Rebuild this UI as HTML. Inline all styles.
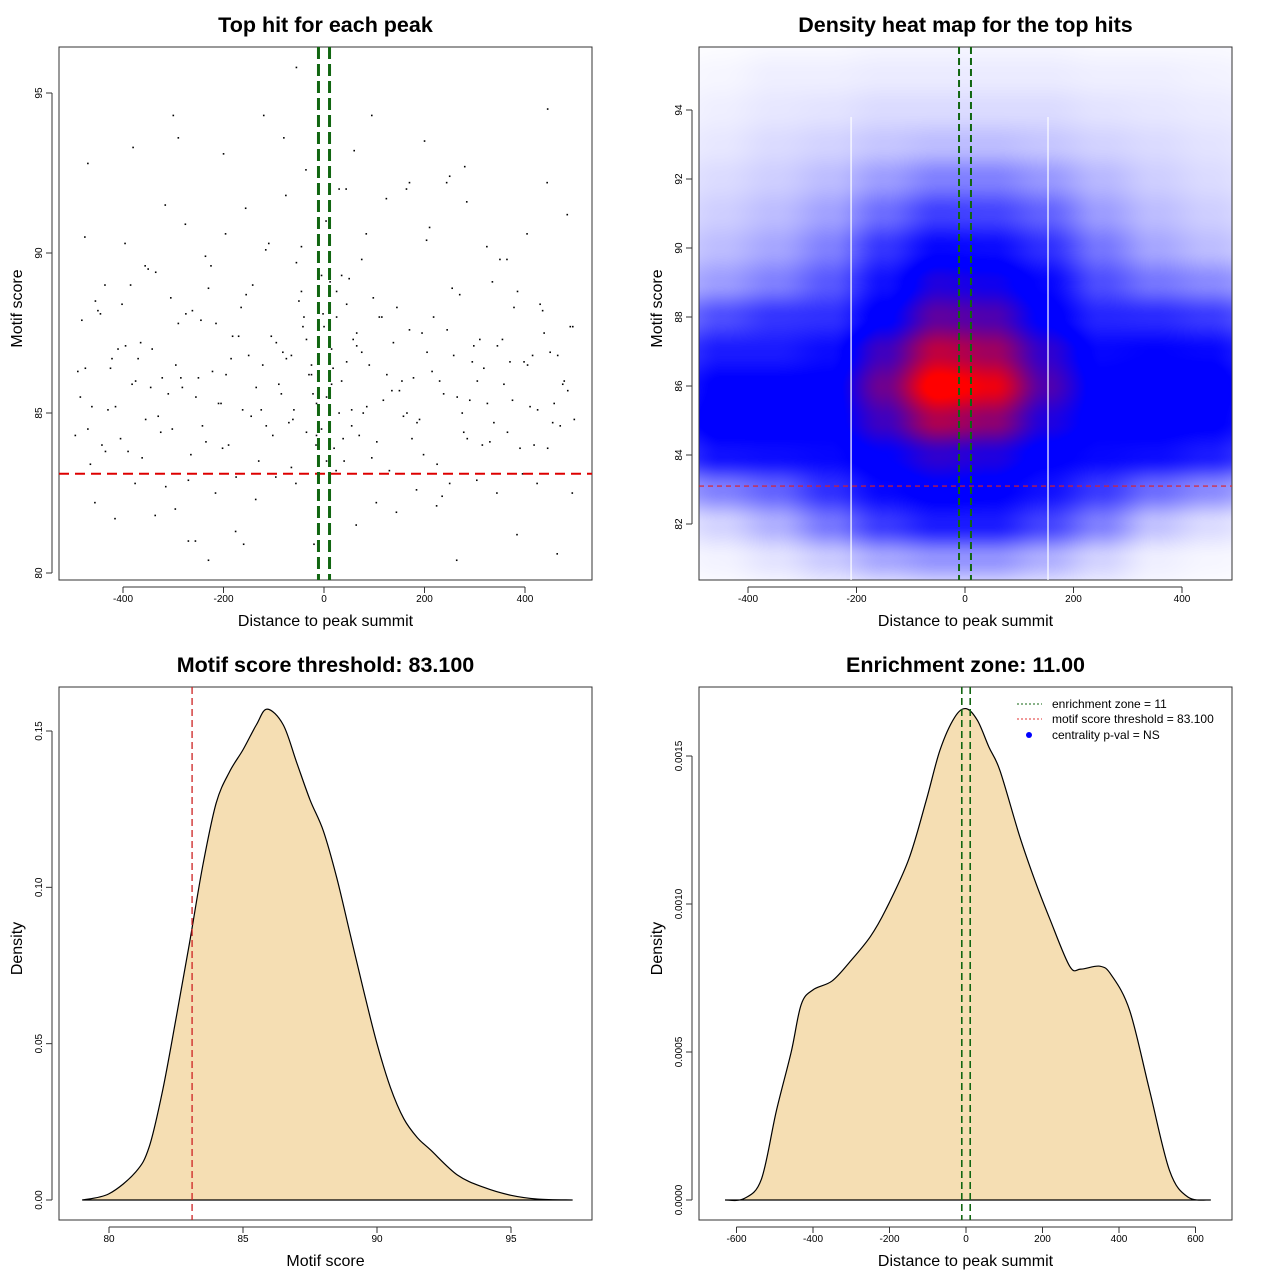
<!DOCTYPE html>
<html><head><meta charset="utf-8">
<style>
html,body{margin:0;padding:0;background:#fff;}
#wrap{position:relative;width:1280px;height:1280px;overflow:hidden;font-family:"Liberation Sans",sans-serif;}
#heat{position:absolute;left:699px;top:47px;}
svg{position:absolute;left:0;top:0;}
text{font-family:"Liberation Sans",sans-serif;}
</style></head>
<body>
<div id="wrap">
<canvas id="heat" width="533" height="533"></canvas>
<svg id="svg" width="1280" height="1280" xmlns="http://www.w3.org/2000/svg"></svg>
</div>
<script>
// ---- Panel 1 data: scatter of top hits ----
const hitDist = [
-490,-470,-450,-430,-410,-390,-370,-350,-330,-310,
-290,-270,-250,-230,-210,-190,-170,-150,-130,-110,
-90,-70,-50,-30,-10,10,30,50,70,90,
110,130,150,170,190,210,230,250,270,290,
310,330,350,370,390,410,430,450,470,490,
-485,-465,-445,-425,-405,-385,-365,-345,-325,-305,
-285,-265,-245,-225,-205,-185,-165,-145,-125,-105,
-85,-65,-45,-25,-5,15,35,55,75,95,
115,135,155,175,195,215,235,255,275,295,
315,335,355,375,395,415,435,455,475,495,
-495,-475,-455,-435,-415,-395,-375,-355,-335,-315,
-295,-275,-255,-235,-215,-195,-175,-155,-135,-115,
-95,-75,-55,-35,-15,5,25,45,65,85,
105,125,145,165,185,205,225,245,265,285,
305,325,345,365,385,405,425,445,465,485,
-482,-462,-442,-422,-402,-382,-362,-342,-322,-302,
-282,-262,-242,-222,-202,-182,-162,-142,-122,-102,
-82,-62,-42,-22,-2,18,38,58,78,98,
118,138,158,178,198,218,238,258,278,298,
318,338,358,378,398,418,438,458,478,498,
-476,-456,-436,-416,-396,-376,-356,-336,-316,-296,
-276,-256,-236,-216,-196,-176,-156,-136,-116,-96,
-76,-56,-36,-16,4,24,44,64,84,104,
124,144,164,184,204,224,244,264,284,304,
324,344,364,384,404,424,444,464,484,494,
-470,-380,-300,-290,-200,-120,-80,-55,60,95,
200,250,280,445,-270,-230,-20,30,170,-160,
-40,-25,-15,0,5,12,20,35,45,55,
-60,-35,-5,15,25,40,65,75,-45,-65];
const hitScore = [
86.3,84.5,88.2,85.1,87.0,83.8,86.7,89.5,84.9,85.6,
87.8,82.9,86.1,88.9,85.3,84.0,87.4,86.8,83.5,90.3,
85.9,84.7,88.5,86.2,82.5,87.1,85.0,89.2,84.3,86.5,
88.0,83.2,85.7,87.6,84.8,90.8,86.0,82.8,88.7,85.4,
87.3,84.1,89.8,86.6,83.9,85.2,88.4,86.9,84.6,87.7,
85.5,83.4,88.1,86.4,84.2,89.0,87.2,85.8,84.4,88.6,
86.1,83.7,87.9,89.6,85.3,86.7,88.3,84.9,85.1,87.4,
85.6,83.3,88.8,86.2,84.5,87.0,89.3,85.1,86.9,83.6,
88.0,85.7,86.0,84.2,87.5,86.3,82.4,88.9,85.0,86.6,
84.0,89.1,87.3,85.4,83.1,86.8,88.2,84.7,85.9,87.7,
84.3,86.4,88.5,83.8,85.2,87.1,86.0,84.8,89.4,82.7,
86.5,88.1,85.5,84.1,87.8,86.2,83.0,88.7,85.8,84.6,
87.2,86.7,89.7,84.4,85.3,83.5,88.0,86.6,87.5,85.2,
84.1,86.2,88.3,85.0,84.7,86.9,83.4,87.6,85.5,84.2,
86.0,85.3,87.1,84.4,88.8,86.5,85.1,83.9,86.8,85.7,
87.9,85.2,84.0,86.7,88.4,85.9,83.6,87.0,86.1,84.5,
85.8,88.2,84.6,86.3,83.9,87.4,85.1,89.0,86.5,84.3,
86.9,84.8,87.7,85.6,88.1,86.4,84.2,87.3,85.0,88.6,
85.4,87.2,84.9,86.1,83.7,88.0,85.6,86.8,84.4,87.1,
86.4,84.7,85.9,88.3,86.6,84.0,87.5,85.3,86.0,84.8,
90.5,82.2,89.0,81.7,90.3,82.8,89.6,81.8,91.5,82.0,
90.9,81.0,89.9,82.5,90.6,81.3,91.4,82.3,90.1,83.0,
91.8,82.8,92.6,84.0,91.0,83.2,92.0,81.5,90.6,82.2,
91.7,81.9,92.0,82.6,90.4,82.1,92.2,80.4,91.6,82.9,
90.2,82.5,89.8,81.2,90.6,82.8,92.2,80.6,91.2,82.5,
92.8,93.3,94.3,93.6,93.1,94.3,93.6,95.8,93.2,94.3,
93.5,92.4,92.7,94.5,81.0,80.4,80.9,92.0,92.2,80.9,
88.0,86.5,84.3,87.7,85.5,89.1,83.9,86.0,88.4,84.6,
85.1,87.3,89.3,85.9,88.8,83.5,87.1,89.8,90.2,86.8];
// ---- Panel 2 data: density grid ----
const gridX = [-550,-450,-350,-250,-150,-50,50,150,250,350,450,550];
const gridY = [96,95,94,93,92,91,90,89,88,87,86,85,84,83,82,81,80];
const gridVals = [
[0,0.01,0.02,0.02,0.03,0.03,0.03,0.03,0.02,0.02,0.02,0.01],
[0.02,0.03,0.05,0.05,0.06,0.06,0.06,0.06,0.05,0.05,0.04,0.03],
[0.03,0.05,0.07,0.08,0.1,0.1,0.1,0.1,0.08,0.07,0.06,0.05],
[0.05,0.07,0.1,0.12,0.15,0.17,0.17,0.15,0.12,0.1,0.08,0.06],
[0.07,0.1,0.13,0.17,0.24,0.3,0.3,0.25,0.18,0.13,0.1,0.07],
[0.09,0.13,0.17,0.23,0.34,0.43,0.42,0.36,0.24,0.17,0.13,0.09],
[0.12,0.17,0.22,0.3,0.45,0.54,0.53,0.46,0.32,0.22,0.17,0.12],
[0.18,0.24,0.3,0.38,0.52,0.62,0.6,0.54,0.4,0.32,0.28,0.22],
[0.3,0.4,0.45,0.46,0.57,0.7,0.68,0.57,0.48,0.47,0.44,0.36],
[0.42,0.5,0.5,0.53,0.66,0.82,0.78,0.64,0.54,0.55,0.54,0.46],
[0.48,0.56,0.56,0.56,0.72,0.93,0.88,0.68,0.56,0.57,0.58,0.5],
[0.5,0.58,0.57,0.56,0.66,0.8,0.76,0.62,0.56,0.57,0.56,0.5],
[0.42,0.52,0.53,0.54,0.58,0.64,0.62,0.56,0.54,0.53,0.5,0.42],
[0.22,0.3,0.36,0.46,0.54,0.57,0.56,0.52,0.44,0.34,0.28,0.2],
[0.06,0.12,0.2,0.32,0.44,0.5,0.5,0.42,0.3,0.16,0.1,0.05],
[0.02,0.04,0.08,0.14,0.22,0.26,0.26,0.2,0.12,0.05,0.03,0.02],
[0,0.01,0.02,0.04,0.06,0.08,0.08,0.06,0.04,0.02,0.01,0]];
// ---- Panel 3 data: motif score density ----
const scoreX = [79,80,81,81.5,82,82.5,83,83.5,84,84.5,85,85.5,85.9,86.5,87,87.5,88,88.5,89,89.5,90,90.5,91,91.5,92,93,94,95,96,97.3];
const scoreD = [0,0.002,0.009,0.017,0.035,0.058,0.082,0.107,0.127,0.137,0.144,0.152,0.157,0.152,0.14,0.128,0.118,0.103,0.085,0.067,0.05,0.036,0.026,0.02,0.016,0.008,0.004,0.0015,0.0003,0];
// ---- Panel 4 data: distance density ----
const distX = [-630,-580,-535,-496,-457,-431,-400,-350,-300,-250,-210,-150,-104,-68,-30,0,30,60,89,140,180,219,271,300,350,380,428,480,532,580,640];
const distD = [0,0.000005,0.00007,0.0003,0.0005,0.00066,0.00071,0.00074,0.00081,0.00089,0.00098,0.00115,0.00135,0.00152,0.00163,0.00166,0.00162,0.00153,0.00145,0.00123,0.00108,0.00095,0.00079,0.00078,0.00079,0.00076,0.00064,0.00037,0.0001,0.00001,0];

const NS="http://www.w3.org/2000/svg";
const svg=document.getElementById('svg');
function mk(tag,attrs,parent,txt){const e=document.createElementNS(NS,tag);for(const k in attrs)e.setAttribute(k,attrs[k]);if(txt!==undefined)e.textContent=txt;(parent||svg).appendChild(e);return e;}
function lin(d0,d1,r0,r1){return v=>r0+(v-d0)*(r1-r0)/(d1-d0);}

function frame(x0,y0,x1,y1,title,xlab,ylab,name){
  const g=mk('g',{});
  
  
  const r=mk('rect',{x:x0,y:y0,width:x1-x0,height:y1-y0,fill:'none',stroke:'#333','stroke-width':1},g);
  
  const t=mk('text',{x:(x0+x1)/2,y:y0-15,'text-anchor':'middle','font-size':21.5,'font-weight':'bold'},g,title);
  
  const xl=mk('text',{x:(x0+x1)/2,y:y1+46,'text-anchor':'middle','font-size':16},g,xlab);
  
  const cy=(y0+y1)/2;
  const yl=mk('text',{x:x0-37,y:cy+5,'text-anchor':'middle','font-size':16,transform:`rotate(-90 ${x0-42} ${cy})`},g,ylab);
  
  return g;
}
function xaxis(g,ticks,labels,sx,y1){
  const a=mk('g',{},g);
  mk('line',{x1:sx(ticks[0]),x2:sx(ticks[ticks.length-1]),y1:y1+7,y2:y1+7,stroke:'#333'},a);
  ticks.forEach((t,i)=>{mk('line',{x1:sx(t),x2:sx(t),y1:y1+7,y2:y1+13,stroke:'#333'},a);
    const l=mk('text',{x:sx(t),y:y1+22,'text-anchor':'middle','font-size':10},a,labels[i]);
    });
}
function yaxis(g,ticks,labels,sy,x0){
  const a=mk('g',{},g);
  mk('line',{x1:x0-7,x2:x0-7,y1:sy(ticks[0]),y2:sy(ticks[ticks.length-1]),stroke:'#333'},a);
  ticks.forEach((t,i)=>{const y=sy(t);mk('line',{x1:x0-7,x2:x0-13,y1:y,y2:y,stroke:'#333'},a);
    const l=mk('text',{x:x0-17,y:y,'text-anchor':'middle','font-size':10,transform:`rotate(-90 ${x0-17} ${y})`},a,labels[i]);
    });
}

// ---------- Panel 1 ----------
(function(){
  const x0=59,y0=47,x1=592,y1=580;
  const sx=lin(0,200,324,424.5), sy=lin(80,95,573,93);
  const g=frame(x0,y0,x1,y1,'Top hit for each peak','Distance to peak summit','Motif score','scatter-panel');
  xaxis(g,[-400,-200,0,200,400],['-400','-200','0','200','400'],sx,y1);
  yaxis(g,[80,85,90,95],['80','85','90','95'],sy,x0);
  const pg=mk('g',{},g);
  const n=Math.min(hitDist.length,hitScore.length);
  for(let i=0;i<n;i++){
    const c=mk('rect',{x:sx(hitDist[i])-0.75,y:sy(hitScore[i])-0.75,width:1.6,height:1.6,fill:'#000'},pg);
    
  }
  const r=mk('line',{x1:x0,x2:x1,y1:sy(83.1),y2:sy(83.1),stroke:'#d00','stroke-width':2,'stroke-dasharray':'10 6'},g);
  
  [-11,11].forEach(v=>{const l=mk('line',{x1:sx(v),x2:sx(v),y1:y0,y2:y1,stroke:'#116611','stroke-width':3,'stroke-dasharray':'12 5'},g);
    });
})();

// ---------- Panel 2 ----------
(function(){
  const x0=699,y0=47,x1=1232,y1=580;
  const sx=lin(0,200,965,1073.5), sy=lin(82,94,524,110);
  const ux=lin(965,1073.5,0,200), uy=lin(524,110,82,94);
  const cv=document.getElementById('heat');const ctx=cv.getContext('2d');
  const img=ctx.createImageData(533,533);
  function val(dx,sc){
    let i=0;while(i<gridX.length-2&&dx>gridX[i+1])i++;
    let j=0;while(j<gridY.length-2&&sc<gridY[j+1])j++;
    let tx=(dx-gridX[i])/(gridX[i+1]-gridX[i]);tx=Math.max(0,Math.min(1,tx));
    let ty=(sc-gridY[j])/(gridY[j+1]-gridY[j]);ty=Math.max(0,Math.min(1,ty));
    tx=tx*tx*(3-2*tx);ty=ty*ty*(3-2*ty);
    const a=gridVals[j][i]*(1-tx)+gridVals[j][i+1]*tx;
    const b=gridVals[j+1][i]*(1-tx)+gridVals[j+1][i+1]*tx;
    return a*(1-ty)+b*ty;
  }
  function col(v){
    if(v<0.55){const t=Math.pow(v/0.55,1.15);return [255*(1-t),255*(1-t),255];}
    if(v<0.58)return [0,0,255];
    const t=Math.min(1,(v-0.58)/0.32);return [255*t,0,255*(1-t)];
  }
  for(let py=0;py<533;py++){const sc=uy(py+y0);
    for(let px=0;px<533;px++){const c=col(val(ux(px+x0),sc));const k=(py*533+px)*4;
      img.data[k]=c[0];img.data[k+1]=c[1];img.data[k+2]=c[2];img.data[k+3]=255;}}
  ctx.putImageData(img,0,0);
  const g=frame(x0,y0,x1,y1,'Density heat map for the top hits','Distance to peak summit','Motif score','heatmap-panel');
  xaxis(g,[-400,-200,0,200,400],['-400','-200','0','200','400'],sx,y1);
  yaxis(g,[82,84,86,88,90,92,94],['82','84','86','88','90','92','94'],sy,x0);
  [-210,153].forEach(v=>{const l=mk('line',{x1:sx(v),x2:sx(v),y1:y0+70,y2:y1,stroke:'#fff','stroke-width':1.2},g);
    });
  const r=mk('line',{x1:x0,x2:x1,y1:sy(83.1),y2:sy(83.1),stroke:'#e02020','stroke-width':1.2,'stroke-dasharray':'5 4'},g);
  
  [-11,11].forEach(v=>{const l=mk('line',{x1:sx(v),x2:sx(v),y1:y0,y2:y1,stroke:'#116611','stroke-width':2,'stroke-dasharray':'7 4'},g);
    });
})();

function smoothPath(xs,ys){
  let d=`M${xs[0]},${ys[0]}`;
  for(let i=0;i<xs.length-1;i++){
    const x0=xs[Math.max(0,i-1)],y0=ys[Math.max(0,i-1)],x1=xs[i],y1=ys[i],x2=xs[i+1],y2=ys[i+1],x3=xs[Math.min(xs.length-1,i+2)],y3=ys[Math.min(xs.length-1,i+2)];
    d+=` C${x1+(x2-x0)/6},${y1+(y2-y0)/6} ${x2-(x3-x1)/6},${y2-(y3-y1)/6} ${x2},${y2}`;
  }
  return d;
}

// ---------- Panel 3 ----------
(function(){
  const x0=59,y0=687,x1=592,y1=1220;
  const sx=lin(80,95,109,511), sy=lin(0,0.15,1200,731);
  const g=frame(x0,y0,x1,y1,'Motif score threshold: 83.100','Motif score','Density','score-density-panel');
  xaxis(g,[80,85,90,95],['80','85','90','95'],sx,y1);
  yaxis(g,[0,0.05,0.1,0.15],['0.00','0.05','0.10','0.15'],sy,x0);
  const xs=scoreX.map(sx),ys=scoreD.map(sy);
  const p=mk('path',{d:smoothPath(xs,ys)+' Z',fill:'#f5deb3',stroke:'#000','stroke-width':1.2},g);
  
  const r=mk('line',{x1:sx(83.1),x2:sx(83.1),y1:y0,y2:y1,stroke:'#cc2222','stroke-width':1.3,'stroke-dasharray':'7 4'},g);
  
})();

// ---------- Panel 4 ----------
(function(){
  const x0=699,y0=687,x1=1232,y1=1220;
  const sx=lin(0,200,966,1042.5), sy=lin(0,0.0015,1200,756);
  const g=frame(x0,y0,x1,y1,'Enrichment zone: 11.00','Distance to peak summit','Density','distance-density-panel');
  xaxis(g,[-600,-400,-200,0,200,400,600],['-600','-400','-200','0','200','400','600'],sx,y1);
  yaxis(g,[0,0.0005,0.001,0.0015],['0.0000','0.0005','0.0010','0.0015'],sy,x0);
  const xs=distX.map(sx),ys=distD.map(sy);
  const p=mk('path',{d:smoothPath(xs,ys)+' Z',fill:'#f5deb3',stroke:'#000','stroke-width':1.2},g);
  
  [-11,11].forEach(v=>{const l=mk('line',{x1:sx(v),x2:sx(v),y1:y0,y2:y1,stroke:'#116611','stroke-width':1.6,'stroke-dasharray':'7 4'},g);
    });
  const lg=mk('g',{},g);
  mk('line',{x1:1017,x2:1042,y1:704,y2:704,stroke:'#116611','stroke-dasharray':'2 2'},lg);
  const t1=mk('text',{x:1052,y:708,'font-size':12},lg,'enrichment zone = 11');
  
  mk('line',{x1:1017,x2:1042,y1:719,y2:719,stroke:'#e03030','stroke-dasharray':'2 2'},lg);
  const t2=mk('text',{x:1052,y:723,'font-size':12},lg,'motif score threshold = 83.100');
  
  mk('circle',{cx:1029,cy:735,r:3,fill:'#00f'},lg);
  const t3=mk('text',{x:1052,y:739,'font-size':12},lg,'centrality p-val = NS');
  
})();
</script>
</body></html>
